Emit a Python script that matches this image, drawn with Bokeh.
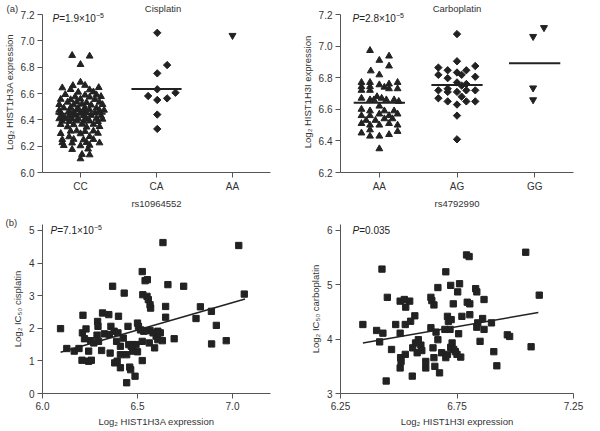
import numpy as np
from bokeh.plotting import figure
from bokeh.layouts import gridplot
from bokeh.models import Range1d, FixedTicker, PrintfTickFormatter, Label
from bokeh.embed import file_html
from bokeh.resources import INLINE

FONT = "Liberation Sans"
INK = "#222222"
AXIS = "#555555"
TXT = "#333333"

# ---------------- data: panel (a) cisplatin, rs10964552 ----------------
cis_genotypes = ["CC", "CA", "AA"]
cc_expr = [6.889, 6.884, 6.820, 6.686, 6.660, 6.662, 6.643, 6.645, 6.630, 6.628, 6.610, 6.612,
           6.592, 6.588, 6.590, 6.575, 6.573, 6.577, 6.556, 6.553, 6.558, 6.555,
           6.534, 6.536, 6.531, 6.534, 6.516, 6.514, 6.519, 6.512, 6.516,
           6.490, 6.492, 6.488, 6.491, 6.489, 6.473, 6.470, 6.475, 6.472, 6.476, 6.471, 6.473,
           6.453, 6.455, 6.450, 6.454, 6.452, 6.433, 6.431, 6.435, 6.432, 6.434, 6.430,
           6.408, 6.410, 6.406, 6.409, 6.407, 6.411, 6.405, 6.390, 6.388, 6.392, 6.389, 6.391, 6.387,
           6.365, 6.363, 6.367, 6.366, 6.347, 6.345, 6.349, 6.314, 6.316, 6.312, 6.315,
           6.296, 6.294, 6.298, 6.271, 6.273, 6.250, 6.252, 6.248, 6.251,
           6.226, 6.224, 6.228, 6.225, 6.205, 6.203, 6.207, 6.175, 6.178, 6.137, 6.134, 6.104]
cc_jitter = [-0.11, 0.12, 0.00, 0.00, -0.10, 0.06, -0.24, 0.24, -0.13, 0.12, -0.03, 0.17,
             -0.20, 0.06, 0.21, -0.07, 0.12, 0.27, -0.26, -0.13, 0.00, 0.19,
             -0.17, -0.05, 0.08, 0.25, -0.28, -0.09, 0.02, 0.14, 0.29,
             -0.22, -0.13, -0.03, 0.06, 0.21, -0.28, -0.15, -0.05, 0.04, 0.12, 0.25, 0.31,
             -0.26, -0.09, 0.00, 0.08, 0.19, -0.24, -0.15, -0.07, 0.04, 0.14, 0.27,
             -0.28, -0.20, -0.11, -0.03, 0.08, 0.21, 0.29, -0.24, -0.15, -0.05, 0.04, 0.12, 0.23,
             -0.26, -0.09, 0.02, 0.17, -0.17, 0.08, 0.25, -0.13, -0.05, 0.06, 0.17,
             -0.26, 0.00, 0.23, -0.15, 0.12, -0.24, -0.09, 0.04, 0.17,
             -0.24, -0.11, 0.08, 0.25, -0.22, 0.00, 0.12, -0.11, 0.10, 0.02, 0.12, 0.00]
ca_expr = [7.061, 6.816, 6.753, 6.632, 6.581, 6.551, 6.563, 6.606, 6.440, 6.331]
ca_jitter = [0.01, 0.14, 0.01, 0.01, -0.11, 0.01, 0.14, 0.25, 0.01, 0.01]
aa_expr = [7.041]
aa_jitter = [0.0]
cis_means = [6.447, 6.635]          # mean bars for CC, CA

# ---------------- data: panel (a) carboplatin, rs4792990 ----------------
carbo_genotypes = ["AA", "AG", "GG"]
caa_expr = [6.972, 6.910, 6.937, 6.874, 6.843, 6.818, 6.770, 6.770, 6.743, 6.743, 6.720, 6.720,
            6.755, 6.760, 6.770, 6.740, 6.730, 6.730, 6.670, 6.660, 6.680, 6.660, 6.670, 6.660,
            6.660, 6.650, 6.620, 6.600, 6.590, 6.590, 6.590, 6.560, 6.560, 6.570, 6.560, 6.570,
            6.530, 6.530, 6.540, 6.540, 6.510, 6.500, 6.500, 6.510, 6.500, 6.470, 6.450, 6.430,
            6.430, 6.440, 6.460, 6.350]
caa_jitter = [-0.12, 0.00, 0.125, 0.125, -0.11, 0.00, -0.23, -0.12, -0.23, -0.12, -0.23, -0.12,
              0.00, 0.125, 0.235, 0.065, 0.125, 0.235, -0.23, -0.12, -0.03, -0.07, 0.03, 0.09,
              0.19, 0.25, 0.00, -0.23, -0.12, 0.065, 0.19, -0.23, -0.12, 0.00, 0.125, 0.235,
              -0.17, -0.05, 0.065, 0.17, -0.23, -0.12, 0.00, 0.125, 0.235, -0.12, -0.23, -0.12,
              0.00, 0.125, 0.235, 0.00]
cag_expr = [7.076, 6.904, 6.864, 6.847, 6.833, 6.847, 6.874, 6.818, 6.797, 6.818, 6.806, 6.770,
            6.760, 6.750, 6.720, 6.730, 6.710, 6.710, 6.720, 6.720, 6.670, 6.650, 6.680, 6.650,
            6.650, 6.630, 6.560, 6.410]
cag_jitter = [0.00, 0.00, -0.24, -0.12, 0.00, 0.12, 0.235, -0.24, -0.12, 0.06, 0.235, 0.00,
              0.12, 0.06, -0.24, -0.12, -0.12, 0.00, 0.12, 0.235, -0.24, -0.12, 0.06, 0.12,
              0.235, 0.00, 0.00, 0.00]
cgg_expr = [7.061, 7.117, 6.735, 6.660]
cgg_jitter = [-0.02, 0.12, -0.02, -0.02]
carbo_means = [6.642, 6.754, 6.891]

# ---------------- data: panel (b) ----------------
cis_x = [6.095, 6.128, 6.167, 6.192, 6.213, 6.210, 6.208, 6.221, 6.229, 6.243,
         6.243, 6.257, 6.254, 6.270, 6.290, 6.292, 6.287, 6.295, 6.316, 6.311,
         6.325, 6.349, 6.369, 6.360, 6.356, 6.377, 6.380, 6.390, 6.393, 6.397,
         6.400, 6.410, 6.410, 6.410, 6.430, 6.443, 6.443, 6.450, 6.454, 6.459,
         6.464, 6.475, 6.475, 6.487, 6.492, 6.500, 6.505, 6.500, 6.525, 6.528,
         6.525, 6.525, 6.540, 6.552, 6.550, 6.557, 6.566, 6.566, 6.546, 6.562,
         6.569, 6.590, 6.598, 6.607, 6.620, 6.634, 6.648, 6.648, 6.631, 6.660,
         6.693, 6.743, 6.808, 6.831, 6.889, 6.890, 6.915, 6.967, 7.033, 7.062,
         6.516, 6.533, 6.582, 6.607, 6.425, 6.352, 6.467]
cis_ic50 = [1.99, 1.38, 1.30, 1.38, 2.40, 1.86, 1.02, 1.68, 1.98, 1.30,
            0.99, 1.02, 1.62, 1.55, 2.21, 2.06, 1.79, 1.60, 2.47, 1.32,
            1.83, 2.42, 3.29, 2.06, 1.24, 1.91, 0.94, 1.60, 0.99, 1.86,
            2.37, 1.45, 1.19, 0.79, 3.08, 1.19, 0.33, 2.06, 1.50, 0.81,
            0.73, 1.50, 1.30, 0.53, 1.50, 2.16, 2.06, 1.28, 3.74, 3.03,
            1.60, 1.01, 3.46, 3.49, 2.98, 2.88, 2.72, 1.93, 1.93, 1.55,
            2.62, 1.40, 1.76, 1.65, 1.86, 4.63, 2.67, 2.34, 1.62, 3.34,
            1.68, 3.29, 2.30, 2.66, 2.52, 1.52, 2.09, 1.62, 4.54, 3.05,
            1.95, 1.91, 1.86, 1.91, 1.70, 1.81, 1.45]
cis_fit_x = [6.095, 7.066]
cis_fit_y = [1.265, 2.90]

carb_x = [6.346, 6.405, 6.418, 6.428, 6.432, 6.446, 6.451, 6.469, 6.487, 6.506,
          6.506, 6.508, 6.506, 6.510, 6.524, 6.528, 6.530, 6.547, 6.551, 6.528,
          6.558, 6.569, 6.560, 6.572, 6.579, 6.584, 6.595, 6.599, 6.616, 6.616,
          6.638, 6.642, 6.651, 6.638, 6.647, 6.651, 6.655, 6.660, 6.668, 6.668,
          6.675, 6.684, 6.698, 6.702, 6.702, 6.709, 6.709, 6.713, 6.720, 6.723,
          6.723, 6.725, 6.729, 6.734, 6.736, 6.743, 6.750, 6.753, 6.757, 6.761,
          6.766, 6.771, 6.791, 6.802, 6.794, 6.805, 6.805, 6.830, 6.835, 6.839,
          6.835, 6.849, 6.860, 6.866, 6.866, 6.898, 6.908, 6.921, 6.966, 6.976,
          7.045, 7.068, 7.103]
carb_ic50 = [4.27, 4.16, 3.95, 5.29, 4.11, 3.23, 4.77, 3.81, 4.27, 4.11,
             4.70, 3.66, 3.47, 3.59, 4.73, 4.27, 4.59, 4.70, 4.33, 3.72,
             3.32, 4.43, 3.84, 3.93, 3.75, 3.99, 3.89, 3.79, 3.59, 3.47,
             4.77, 4.71, 4.63, 4.21, 3.84, 3.66, 3.50, 4.13, 4.95, 3.99,
             3.38, 3.75, 4.18, 5.24, 3.66, 3.72, 4.42, 4.33, 4.18, 4.99,
             3.85, 4.36, 3.93, 4.65, 3.81, 3.77, 3.72, 4.87, 4.10, 5.02,
             3.67, 4.42, 5.55, 5.52, 4.68, 4.65, 4.45, 4.93, 4.87, 4.30,
             4.22, 3.96, 4.38, 4.73, 4.18, 4.30, 3.77, 3.51, 4.08, 4.05,
             5.60, 3.86, 4.81]
carb_fit_x = [6.346, 7.099]
carb_fit_y = [3.93, 4.49]

NBSP = "\u00a0"


def style(p, xlabel, ylabel):
    p.xgrid.visible = False
    p.ygrid.visible = False
    p.outline_line_color = None
    p.xaxis.axis_label = xlabel
    p.yaxis.axis_label = ylabel
    for ax in (p.xaxis, p.yaxis):
        ax.axis_line_color = AXIS
        ax.major_tick_line_color = AXIS
        ax.minor_tick_line_color = None
        ax.major_tick_in = 0
        ax.major_tick_out = 5
        ax.major_label_text_font = FONT
        ax.major_label_text_font_size = "10px"
        ax.major_label_text_color = TXT
        ax.axis_label_text_font = FONT
        ax.axis_label_text_font_size = "9.5px"
        ax.axis_label_text_font_style = "normal"
        ax.axis_label_text_color = TXT
        ax.major_label_standoff = 3
        ax.axis_label_standoff = 3


def set_title(p, text, align, offset, standoff):
    p.title.text = text
    p.title.align = align
    p.title.offset = offset
    p.title.standoff = standoff
    p.title.text_font = FONT
    p.title.text_font_size = "9.5px"
    p.title.text_font_style = "normal"
    p.title.text_color = TXT


def label(p, x, y, text, dx=0, dy=0, align="left", baseline="middle", size="10px", fstyle="normal"):
    p.add_layout(Label(x=x, y=y, x_offset=dx, y_offset=dy, text=text, text_align=align,
                       text_baseline=baseline, text_font=FONT, text_font_size=size,
                       text_font_style=fstyle, text_color=INK))


def pvalue(p, x, y, dx, dy, body, exp=None):
    label(p, x, y, "P", dx=dx, dy=dy, fstyle="italic")
    label(p, x, y, body, dx=dx + 6.7, dy=dy)
    if exp:
        label(p, x, y, exp, dx=dx + 6.7 + 36.8, dy=dy + 3, size="7px")


def mk(w, h, xr, yr, l, r, t, b):
    return figure(width=w, height=h, x_range=Range1d(*xr), y_range=Range1d(*yr),
                  output_backend="svg", toolbar_location=None,
                  min_border_left=l, min_border_right=r, min_border_top=t, min_border_bottom=b)


def swarm(p, pos, jit, vals, marker, size, angle=0.0):
    xs = pos + np.array(jit)
    p.scatter(xs, vals, marker=marker, size=size, color=INK, angle=angle)


# ---------------- (a) cisplatin ----------------
p1 = mk(292, 215, (0.5, 3.5), (6.0, 7.2228), 36, 22, 11, 43)
swarm(p1, 1, cc_jitter, cc_expr, "triangle", 6.8)
swarm(p1, 2, ca_jitter, ca_expr, "square", 5.2, np.pi / 4)
swarm(p1, 3, aa_jitter, aa_expr, "inverted_triangle", 7.0)
for i, m in enumerate(cis_means):
    p1.segment(x0=[i + 1 - 0.33], x1=[i + 1 + 0.33], y0=[m], y1=[m], line_width=2, color=INK)
style(p1, "rs10964552", "Log\u2082 HIST1H3A expression")
p1.xaxis.ticker = FixedTicker(ticks=[1, 2, 3])
p1.xaxis.major_label_overrides = {i + 1: g for i, g in enumerate(cis_genotypes)}
p1.yaxis.ticker = FixedTicker(ticks=[6.0, 6.2, 6.4, 6.6, 6.8, 7.0, 7.2])
p1.yaxis.formatter = PrintfTickFormatter(format="%.1f")
p1.yaxis.bounds = (6.0, 7.2001)
set_title(p1, "(a)" + NBSP * 48 + "Cisplatin", "left", -36, -4)
pvalue(p1, 0.5, 7.2, 10, -4, "=1.9\u00d710", "\u22125")

# ---------------- (a) carboplatin ----------------
p2 = mk(292, 215, (0.5, 3.5), (6.2, 7.219), 48, 2, 11, 43)
swarm(p2, 1, caa_jitter, caa_expr, "triangle", 6.8)
swarm(p2, 2, cag_jitter, cag_expr, "square", 5.2, np.pi / 4)
swarm(p2, 3, cgg_jitter, cgg_expr, "inverted_triangle", 7.0)
for i, m in enumerate(carbo_means):
    p2.segment(x0=[i + 1 - 0.33], x1=[i + 1 + 0.33], y0=[m], y1=[m], line_width=2, color=INK)
style(p2, "rs4792990", "Log\u2082 HIST1H3I expression")
p2.xaxis.ticker = FixedTicker(ticks=[1, 2, 3])
p2.xaxis.major_label_overrides = {i + 1: g for i, g in enumerate(carbo_genotypes)}
p2.yaxis.ticker = FixedTicker(ticks=[6.2, 6.4, 6.6, 6.8, 7.0, 7.2])
p2.yaxis.formatter = PrintfTickFormatter(format="%.1f")
p2.yaxis.bounds = (6.2, 7.2001)
set_title(p2, "Carboplatin", "center", 0, -4)
pvalue(p2, 0.5, 7.2, 12, -4, "=2.8\u00d710", "\u22125")

# ---------------- (b) cisplatin scatter ----------------
p3 = mk(292, 215, (6.0, 7.2), (0, 5.184), 37, 12, 9, 37)
p3.scatter(cis_x, cis_ic50, marker="square", size=6.3, color=INK)
p3.line(cis_fit_x, cis_fit_y, line_width=1.6, color=INK)
style(p3, "Log\u2082 HIST1H3A expression", "Log\u2082 IC\u2085\u2080 cisplatin")
p3.xaxis.ticker = FixedTicker(ticks=[6.0, 6.5, 7.0])
p3.xaxis.formatter = PrintfTickFormatter(format="%.1f")
p3.yaxis.ticker = FixedTicker(ticks=[0, 1, 2, 3, 4, 5])
set_title(p3, "(b)", "left", -37, -6)
pvalue(p3, 6.0, 5, 8, 0, "=7.1\u00d710", "\u22125")

# ---------------- (b) carboplatin scatter ----------------
p4 = mk(292, 215, (6.25, 7.25), (3, 6.1104), 48, 11, 9, 37)
p4.scatter(carb_x, carb_ic50, marker="square", size=6.3, color=INK)
p4.line(carb_fit_x, carb_fit_y, line_width=1.6, color=INK)
style(p4, "Log\u2082 HIST1H3I expression", "Log\u2082 IC\u2085\u2080 carboplatin")
p4.xaxis.ticker = FixedTicker(ticks=[6.25, 6.75, 7.25])
p4.xaxis.formatter = PrintfTickFormatter(format="%.2f")
p4.yaxis.ticker = FixedTicker(ticks=[3, 4, 5, 6])
pvalue(p4, 6.25, 6, 12, 0, "=0.035")

grid = gridplot([[p1, p2], [p3, p4]], toolbar_location=None)
open("out.html", "w").write(file_html(grid, INLINE))
